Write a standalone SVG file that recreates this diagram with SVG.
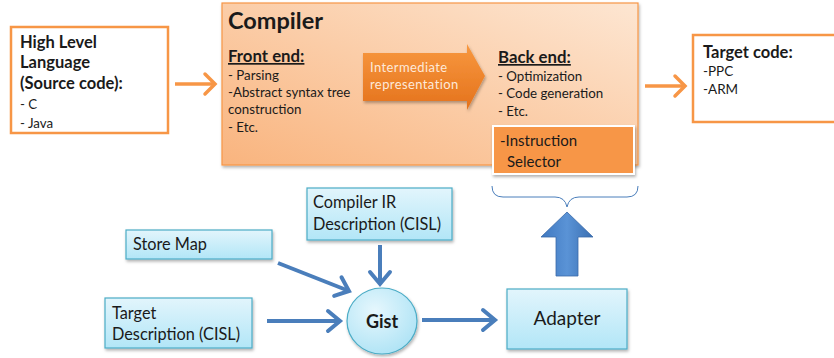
<svg xmlns="http://www.w3.org/2000/svg" width="834" height="358" viewBox="0 0 834 358">
<defs>
  <style>
    text { font-family: Lato, "Open Sans", "Liberation Sans", sans-serif; fill: #1a1a1a; }
    .b { font-weight: bold; }
    .u { text-decoration: underline; }
    .s13 { font-size: 13.3px; }
    .s16 { font-size: 16.3px; }
    .h { font-size: 16.5px; font-weight: bold; }
    .obox { fill: #ffffff; stroke: #f79646; stroke-width: 2.5; }
    .cbox { fill: url(#cyanGrad); stroke: #4bacc6; stroke-width: 1.2; }
    .oarrow { stroke: #f79646; stroke-width: 3.5; fill: none; }
    .barrow { stroke: #4a7ebb; stroke-width: 4; fill: none; }
  </style>
  <linearGradient id="compGrad" x1="0" y1="1" x2="1" y2="0">
    <stop offset="0" stop-color="#f9b47e"/>
    <stop offset="1" stop-color="#fde6d2"/>
  </linearGradient>
  <linearGradient id="irGrad" x1="0" y1="0" x2="0" y2="1">
    <stop offset="0" stop-color="#f8983f"/>
    <stop offset="1" stop-color="#e4721c"/>
  </linearGradient>
  <linearGradient id="cyanGrad" x1="0" y1="0" x2="0" y2="1">
    <stop offset="0" stop-color="#e2f5fc"/>
    <stop offset="1" stop-color="#b2e6f7"/>
  </linearGradient>
  <radialGradient id="gistGrad" cx="0.4" cy="0.35" r="0.7">
    <stop offset="0" stop-color="#e6f7fd"/>
    <stop offset="1" stop-color="#aee3f5"/>
  </radialGradient>
  <linearGradient id="upGrad" x1="0" y1="0" x2="1" y2="0">
    <stop offset="0" stop-color="#3f78c0"/>
    <stop offset="0.5" stop-color="#5a93d6"/>
    <stop offset="1" stop-color="#3a6fb2"/>
  </linearGradient>
  <filter id="shadow" x="-10%" y="-10%" width="130%" height="140%">
    <feDropShadow dx="1" dy="2" stdDeviation="1.5" flood-color="#000" flood-opacity="0.3"/>
  </filter>
  <marker id="oHead" markerUnits="userSpaceOnUse" viewBox="-4 -14 20 28" markerWidth="20" markerHeight="28" refX="10" refY="0" orient="auto">
    <path d="M0,-10 L10,0 L0,10" fill="none" stroke="#f79646" stroke-width="3.5" stroke-linecap="round"/>
  </marker>
  <marker id="bHead" markerUnits="userSpaceOnUse" viewBox="-4 -14 22 28" markerWidth="22" markerHeight="28" refX="12" refY="0" orient="auto">
    <path d="M0,-10 L12,0 L0,10" fill="none" stroke="#4a7ebb" stroke-width="4" stroke-linecap="round"/>
  </marker>
</defs>

<rect width="834" height="358" fill="#ffffff"/>

<g id="connectors">
  <line class="oarrow" x1="175" y1="84" x2="215" y2="84" marker-end="url(#oHead)"/>
  <line class="oarrow" x1="645" y1="86" x2="685" y2="86" marker-end="url(#oHead)"/>
  <line class="barrow" x1="278" y1="263" x2="349" y2="291" marker-end="url(#bHead)"/>
  <line class="barrow" x1="380" y1="245" x2="380" y2="284" marker-end="url(#bHead)"/>
  <line class="barrow" x1="267" y1="321" x2="340" y2="321" marker-end="url(#bHead)"/>
  <line class="barrow" x1="422" y1="320" x2="495" y2="320" marker-end="url(#bHead)"/>
  <path id="brace" d="M492,186 Q492,197 503,197 L555,197 Q565,197 567,207 Q569,197 579,197 L627,197 Q638,197 638,186" fill="none" stroke="#4a7ebb" stroke-width="1"/>
  <path id="upArrow" d="M556,276 L556,237 L541,237 L567,212 L593,237 L578,237 L578,276 Z" fill="url(#upGrad)" stroke="#3a6aa8" stroke-width="0.8"/>
</g>

<g id="highlevel">
  <rect class="obox" x="11" y="27" width="157" height="106"/>
  <text class="h" x="20" y="48">High Level</text>
  <text class="h" x="20" y="68">Language</text>
  <text class="h" x="20" y="89">(Source code):</text>
  <text class="s13" x="20" y="109">- C</text>
  <text class="s13" x="20" y="128">- Java</text>
</g>

<g id="compiler">
  <rect x="222" y="3" width="416" height="162" fill="url(#compGrad)" stroke="#f79646" stroke-width="1.2" filter="url(#shadow)"/>
  <text class="b" x="228" y="29" font-size="23.5">Compiler</text>
  <text class="b u" x="228" y="62" font-size="16.8">Front end:</text>
  <text class="s13" x="228" y="80">- Parsing</text>
  <text class="s13" x="228" y="97">-Abstract syntax tree</text>
  <text class="s13" x="228" y="114">construction</text>
  <text class="s13" x="228" y="132">- Etc.</text>
  <text class="b u" x="498" y="63" font-size="16.8">Back end:</text>
  <text class="s13" x="498" y="81">- Optimization</text>
  <text class="s13" x="498" y="98">- Code generation</text>
  <text class="s13" x="498" y="116">- Etc.</text>
</g>

<g id="intermediate">
  <path d="M363,53 L467,53 L467,44 L485,76 L467,110 L467,101 L363,101 Z" fill="url(#irGrad)" filter="url(#shadow)"/>
  <text x="370" y="72" font-size="13" style="fill:#fde9d9" letter-spacing="0.4">Intermediate</text>
  <text x="370" y="89" font-size="13" style="fill:#fde9d9" letter-spacing="0.4">representation</text>
</g>

<g id="selector">
  <rect x="493" y="126" width="141" height="48" fill="#f79646" stroke="#ffffff" stroke-width="2" filter="url(#shadow)"/>
  <text x="500" y="146" font-size="15">-Instruction</text>
  <text x="507" y="167" font-size="15">Selector</text>
</g>

<g id="target">
  <rect class="obox" x="693" y="35" width="145" height="87"/>
  <text class="b" x="703" y="58" font-size="16.5">Target code:</text>
  <text x="703" y="76" font-size="13.5">-PPC</text>
  <text x="703" y="94" font-size="13.5">-ARM</text>
</g>

<g id="compilerIR">
  <rect class="cbox" x="307" y="188" width="145" height="52" filter="url(#shadow)"/>
  <text class="s16" x="313" y="208">Compiler IR</text>
  <text class="s16" x="313" y="230">Description (CISL)</text>
</g>

<g id="storemap">
  <rect class="cbox" x="126" y="230" width="146" height="29" filter="url(#shadow)"/>
  <text class="s16" x="133" y="250">Store Map</text>
</g>

<g id="targetdesc">
  <rect class="cbox" x="105" y="298" width="147" height="50" filter="url(#shadow)"/>
  <text class="s16" x="112" y="319">Target</text>
  <text class="s16" x="112" y="340">Description (CISL)</text>
</g>

<g id="gist">
  <ellipse cx="382" cy="321" rx="35" ry="33" fill="url(#gistGrad)" stroke="#4bacc6" stroke-width="1.2" filter="url(#shadow)"/>
  <text class="b" x="382" y="328" font-size="18" text-anchor="middle">Gist</text>
</g>

<g id="adapter">
  <rect class="cbox" x="507" y="289" width="120" height="60" filter="url(#shadow)"/>
  <text x="567" y="325" font-size="19" text-anchor="middle">Adapter</text>
</g>
</svg>
